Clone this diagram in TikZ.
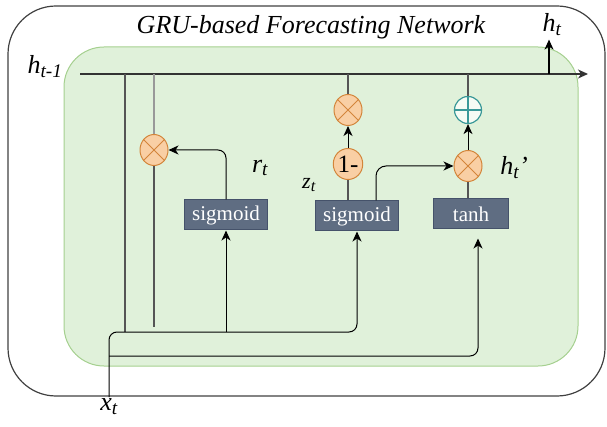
\documentclass[tikz,border=0pt]{standalone}
\usepackage{mathptmx}
\usepackage{fontspec}
\setmainfont{Liberation Serif}
\usetikzlibrary{shapes.geometric,arrows.meta}
\definecolor{cellgreen}{HTML}{E0F1DA}
\definecolor{celledge}{HTML}{A5D08F}
\definecolor{opfill}{HTML}{F9CFA4}
\definecolor{opedge}{HTML}{D3853A}
\definecolor{addedge}{HTML}{3A9898}
\definecolor{gatefill}{HTML}{5F6D82}
\definecolor{gateedge}{HTML}{45526A}
\definecolor{wire}{HTML}{555555}
\tikzset{
  gatebox/.style={draw=gateedge,fill=gatefill,text=white,line width=1pt,inner sep=0pt,minimum height=30pt,font=\fontsize{21}{23}\selectfont},
  multnode/.style={ellipse,draw=opedge,fill=opfill,line width=1pt,minimum width=28pt,minimum height=31pt,inner sep=0pt},
  addnode/.style={circle,draw=addedge,fill=white!70!cellgreen,line width=1.2pt,minimum size=27pt,inner sep=0pt},
  wireline/.style={draw=wire,line width=1.3pt},
  arr/.style={-{Stealth[length=10pt,width=9pt,inset=3pt]},line width=1pt},
  lbl/.style={font=\itshape\fontsize{26}{28}\selectfont}
}
\begin{document}
\begin{tikzpicture}[x=1pt,y=-1pt]
	\useasboundingbox (0,0) rectangle (607,427);
	\draw[black!75,line width=1.2pt,rounded corners=48pt] (8,6) rectangle (605,396);
	\draw[celledge,fill=cellgreen,line width=1pt,rounded corners=40pt] (64,47) rectangle (578,366);
	\node[font=\itshape\fontsize{26}{28}\selectfont] (title) at (311,27) {GRU-based Forecasting Network};
	% hidden state line
	\node[lbl] (hprev) at (45,67) {h\textsubscript{t-1}};
	\node[lbl] (hnow) at (552,25) {h\textsubscript{t}};
	\coordinate (hin) at (80,74);
	\coordinate (hout) at (588,74);
	\coordinate (htap) at (549,74);
	\draw[arr,line width=1.3pt,black!80] (hin) -- (hout);
	\draw[arr,line width=1.2pt] (htap) -- (htap |- hnow.south);
	% gates
	\node[gatebox,minimum width=83pt] (sigr) at (226,215) {sigmoid};
	\node[gatebox,minimum width=83pt] (sigz) at (357,216) {sigmoid};
	\node[gatebox,minimum width=75pt] (tanhc) at (471,214) {tanh};
	\node[multnode] (mr) at (154,150) {};
	\node[multnode] (mz) at (348,110) {};
	\node[multnode,font=\fontsize{25}{26}\selectfont] (onem) at (348,164) {1-};
	\node[multnode] (mh) at (468,166) {};
	\node[addnode] (addh) at (468,110) {};
	\foreach \n in {mr,mz,mh}
		\draw[opedge,line width=1pt] (\n.45) -- (\n.225) (\n.135) -- (\n.315);
	\draw[addedge,line width=1.2pt] (addh.north) -- (addh.south) (addh.west) -- (addh.east);
	% labels
	\node[lbl] (rlbl) at (260,168) {r\textsubscript{t}};
	\node[lbl,font=\itshape\fontsize{22}{24}\selectfont] (zlbl) at (309,185) {z\textsubscript{t}};
	\node[lbl] (hcand) at (514,168) {h\textsubscript{t}'};
	\node[lbl,anchor=north,inner sep=1pt] (xin) at (109,397) {x\textsubscript{t}};
	% taps and junctions
	\coordinate (tapa) at (125,74);
	\coordinate (tapb) at (154,74);
	\coordinate (tapz) at (348,74);
	\coordinate (taph) at (468,74);
	\coordinate (ja) at (125,332);
	\coordinate (jb) at (154,327);
	\coordinate (jr) at (226,332);
	\coordinate (jz) at (357,332);
	\coordinate (jx) at (109,356);
	\draw[wireline] (tapa) -- (ja);
	\draw[wireline,draw=black!40] (tapb) -- (mr);
	\draw[wireline] (mr) -- (jb);
	\draw[wireline] (tapz) -- (mz);
	\draw[wireline] (taph) -- (addh);
	\draw[wireline] (onem |- sigz.north) -- (onem);
	\draw[wireline] (mh |- tanhc.north) -- (mh);
	\draw[arr] (onem) -- (mz);
	\draw[arr] (mh) -- (addh);
	\draw[arr,rounded corners=8pt] (sigr.north) |- (mr);
	\draw[arr,rounded corners=10pt] ([xshift=19pt]sigz.north) |- (mh);
	% input x_t
	\draw[arr] (jr) -- (sigr.south);
	\draw[arr,rounded corners=8pt] (xin.north) |- (jz) -- (sigz.south);
	\draw[arr,rounded corners=8pt,shorten >=9pt] (jx) -| ([xshift=7pt]tanhc.south);
\end{tikzpicture}
\end{document}
